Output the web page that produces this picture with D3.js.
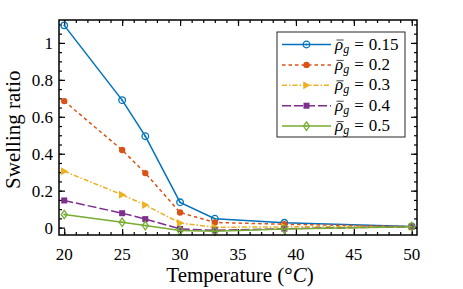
<!DOCTYPE html>
<html>
<head>
<meta charset="utf-8">
<script src="https://cdn.jsdelivr.net/npm/d3@7"></script>
<style>
  body { margin: 0; background: #fff; }
  text { font-family: "Liberation Serif", "DejaVu Serif", serif; }
</style>
</head>
<body>
<svg id="chart" width="463" height="289"></svg>
<script>
// data
var temps = [20, 25, 27, 30, 33, 39, 50];
var rho = ["0.15", "0.2", "0.3", "0.4", "0.5"];
var s015 = [1.095, 0.69, 0.495, 0.137, 0.048, 0.026, 0.006];
var s02  = [0.685, 0.42, 0.295, 0.082, 0.028, 0.018, 0.006];
var s03  = [0.305, 0.178, 0.122, 0.025, 0.002, 0.004, 0.005];
var s04  = [0.147, 0.078, 0.046, -0.007, -0.015, -0.006, 0.005];
var s05  = [0.071, 0.029, 0.011, -0.016, -0.02, -0.008, 0.005];
var xTicks = [20, 25, 30, 35, 40, 45, 50];
var yTicks = [0, 0.2, 0.4, 0.6, 0.8, 1];

var series = [s015, s02, s03, s04, s05];
var colors = ["#0072BD", "#D95319", "#EDB120", "#7E2F8E", "#77AC30"];
var dashes = [null, "3.5,3", "5,2,1.5,2", "9,3", null];
var shapes = ["circleDot", "circle", "triangle", "square", "diamond"];

var svg = d3.select("svg#chart"),
    margin = {left: 59, right: 46, top: 20, bottom: 54},
    width = +svg.attr("width") - margin.left - margin.right,
    height = +svg.attr("height") - margin.top - margin.bottom;

var x = d3.scaleLinear().domain([19.55, 50.45]).range([0, width]);
var y = d3.scaleLinear().domain([-0.04, 1.124]).range([height, 0]);

var g = svg.append("g")
    .attr("transform", "translate(" + margin.left + "," + margin.top + ")");

// minor + major ticks on all four sides, pointing inward
function ticks(axisFn, scale, vals, size, tr) {
  g.append("g")
    .attr("transform", tr)
    .call(axisFn(scale).tickValues(vals).tickSize(size).tickFormat(""))
    .call(function(a) { a.select(".domain").remove(); a.selectAll("line").attr("stroke-width", 1.2); });
}
var xMinor = d3.range(20, 51, 1);
var yMinor = d3.range(0, 1.11, 0.05);
ticks(d3.axisBottom, x, xMinor, -3, "translate(0," + height + ")");
ticks(d3.axisBottom, x, xTicks, -6, "translate(0," + height + ")");
ticks(d3.axisTop, x, xMinor, -3, "translate(0,0)");
ticks(d3.axisTop, x, xTicks, -6, "translate(0,0)");
ticks(d3.axisLeft, y, yMinor, -3, "translate(0,0)");
ticks(d3.axisLeft, y, yTicks, -6, "translate(0,0)");
ticks(d3.axisRight, y, yMinor, -3, "translate(" + width + ",0)");
ticks(d3.axisRight, y, yTicks, -6, "translate(" + width + ",0)");

// tick labels
g.selectAll(".xlab").data(xTicks).enter().append("text")
    .attr("x", function(d) { return x(d); })
    .attr("y", height + 25)
    .attr("text-anchor", "middle")
    .attr("font-size", "17px")
    .text(function(d) { return d; });

g.selectAll(".ylab").data(yTicks).enter().append("text")
    .attr("x", -6)
    .attr("y", function(d) { return y(d) + 6; })
    .attr("text-anchor", "end")
    .attr("font-size", "17px")
    .text(function(d) { return d; });

// axis titles
var xt = svg.append("text")
    .attr("x", margin.left + x(35) + 2)
    .attr("y", 282)
    .attr("text-anchor", "middle")
    .attr("font-size", "21px");
xt.append("tspan").text("Temperature (°");
xt.append("tspan").attr("font-style", "italic").text("C");
xt.append("tspan").text(")");

svg.append("text")
    .attr("transform", "translate(20," + (margin.top + y(0.53)) + ") rotate(-90)")
    .attr("text-anchor", "middle")
    .attr("font-size", "21px")
    .text("Swelling ratio");

function marker(sel, shape, color) {
  if (shape == "circleDot") {
    sel.append("circle").attr("r", 3.3).attr("fill", "none").attr("stroke", color).attr("stroke-width", 1.3);
    sel.append("circle").attr("r", 0.9).attr("fill", color);
  } else if (shape == "circle") {
    sel.append("circle").attr("r", 3.2).attr("fill", color);
  } else if (shape == "triangle") {
    sel.append("path").attr("d", "M-3.2,-4L4,0L-3.2,4Z").attr("fill", color);
  } else if (shape == "square") {
    sel.append("rect").attr("x", -3).attr("y", -3).attr("width", 6).attr("height", 6).attr("fill", color);
  } else {
    sel.append("path").attr("d", "M0,-4.2L3,0L0,4.2L-3,0Z").attr("fill", "none").attr("stroke", color).attr("stroke-width", 1.3);
    sel.append("circle").attr("r", 0.9).attr("fill", color);
  }
}

var line = d3.line()
    .x(function(d, i) { return x(temps[i]); })
    .y(function(d) { return y(d); });

series.forEach(function(s, k) {
  g.append("path")
    .datum(s)
    .attr("d", line)
    .attr("fill", "none")
    .attr("stroke", colors[k])
    .attr("stroke-width", 1.5)
    .attr("stroke-dasharray", dashes[k]);

  g.selectAll(".pt" + k).data(s).enter().append("g")
    .attr("transform", function(d, i) { return "translate(" + x(temps[i]) + "," + y(d) + ")"; })
    .each(function() { marker(d3.select(this), shapes[k], colors[k]); });
});

// frame
g.append("rect")
    .attr("width", width).attr("height", height)
    .attr("fill", "none").attr("stroke", "#000").attr("stroke-width", 1.5);

// legend
var lg = svg.append("g").attr("transform", "translate(277,32)");
lg.append("rect")
    .attr("width", 128).attr("height", 105)
    .attr("fill", "#fff").attr("stroke", "#262626").attr("stroke-width", 1);

rho.forEach(function(r, k) {
  var yy = 12.5 + k * 20.4;
  lg.append("line")
    .attr("x1", 5).attr("x2", 54).attr("y1", yy).attr("y2", yy)
    .attr("stroke", colors[k]).attr("stroke-width", 1.5)
    .attr("stroke-dasharray", dashes[k]);
  var m = lg.append("g").attr("transform", "translate(29.5," + yy + ")");
  marker(m, shapes[k], colors[k]);
  var t = lg.append("text")
    .attr("x", 58).attr("y", yy + 5)
    .attr("font-size", "17px");
  var rt = t.append("tspan").attr("font-style", "italic").text("ρ");
  t.append("tspan").attr("font-style", "italic").attr("font-size", "12px").attr("dy", 3).text("g");
  t.append("tspan").attr("dy", -3).attr("dx", 5).text("=");
  t.append("tspan").attr("dx", 5).text(r);
  // bar over rho
  var w = rt.node().getComputedTextLength();
  lg.append("line")
    .attr("x1", 59.5).attr("x2", 58 + w + 0.5)
    .attr("y1", yy - 4.5).attr("y2", yy - 4.5)
    .attr("stroke", "#333").attr("stroke-width", 0.9);
});
</script>
</body>
</html>
